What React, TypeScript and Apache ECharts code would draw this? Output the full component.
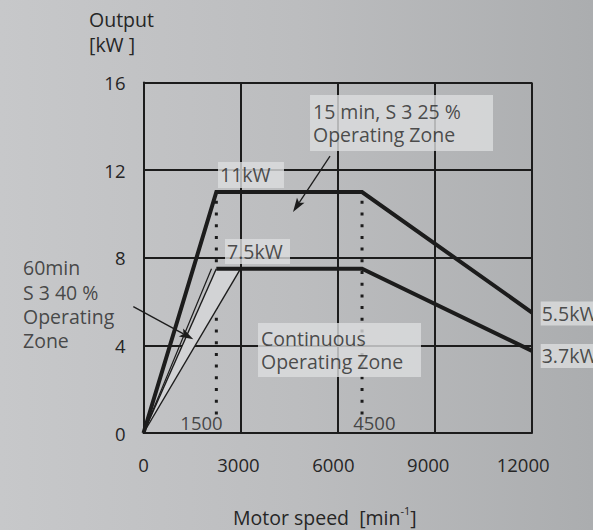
import React, { useEffect, useRef } from "react";
import * as echarts from "echarts";

// ---- axis ticks ----
const speedTickValues = [0, 3000, 6000, 9000, 12000];
const outputTickValues = [0, 4, 8, 12, 16];

// ---- 11 kW curve (15 min, S3 25 %) ----
const speed11kW = [0, 2250, 6750, 12000];
const output11kW = [0, 11, 11, 5.5];

// ---- 7.5 kW curve (continuous) ----
const speed7kW = [0, 2250, 6750, 12000];
const output7kW = [0, 7.5, 7.5, 3.75];

// ---- thin constant-torque ramps ----
const rampSpeed = [0, 3000];
const rampOutput = [0, 7.5];
const ramp60Speed = [0, 2100];
const ramp60Output = [0, 7.5];

// ---- base speed markers (dotted) ----
const baseSpeedPos = [2250, 6750];
const baseSpeedLabels = ["1500", "4500"];
const baseMarkRange = [0.8, 10.6];

// ---- annotation texts ----
const annoTexts = [
  "11kW",
  "7.5kW",
  "15 min, S 3 25 %\nOperating Zone",
  "Continuous\nOperating Zone",
  "5.5kW",
  "3.7kW",
];
const annoAnchors = [
  [2301, 11.78],
  [2517, 8.28],
  [5143, 14.15],
  [3537, 3.79],
  [12269, 5.46],
  [12269, 3.52],
];
const annoBoxes = [
  { w: 64, h: 22, pad: [2, 0, 2, 2] },
  { w: 63, h: 21, pad: [2, 0, 2, 2] },
  { w: 178, h: 48, pad: [4, 2, 4, 3] },
  { w: 160, h: 48, pad: [3, 0, 3, 3] },
  { w: 60, h: 20, pad: [2, 0, 2, 1] },
  { w: 60, h: 20, pad: [2, 0, 2, 1] },
];
const sideText = "60min\nS 3 40 %\nOperating\nZone";
const sideAnchor = [-3722, 5.88];
const baseLabelY = 0.47;
const baseLabelX = [1792, 7129];

// ---- arrows (from, to) ----
const arrowFrom = [
  [5761, 12.64],
  [-315, 5.77],
];
const arrowTo = [
  [4618, 10.09],
  [1538, 4.28],
];

const INK = "#1c1c1c";
const TXT = "#262626";
const FONT = "'Open Sans', 'Noto Sans', sans-serif";
const BOX = "#dcdddf";

export default function App() {
  const ref = useRef<HTMLDivElement>(null);

  useEffect(() => {
    document.body.style.margin = "0";
    const chart = echarts.init(ref.current!, null, { renderer: "svg" });

    const pts = (xs: number[], ys: number[]) => xs.map((x, i) => [x, ys[i]]);
    const p11 = pts(speed11kW, output11kW);
    const p7 = pts(speed7kW, output7kW);
    const ramp = pts(rampSpeed, rampOutput);
    const ramp60 = pts(ramp60Speed, ramp60Output);
    const shade = [p7[0], p7[1], ramp[1]];

    const thinLine = (data: number[][], w = 1.4) => ({
      type: "line",
      data,
      symbol: "none",
      silent: true,
      clip: false,
      lineStyle: { color: INK, width: w },
      z: 5,
    });

    const series: any[] = [
      {
        type: "custom",
        silent: true,
        z: 4,
        data: [[0, 0]],
        renderItem: (params: any, api: any) => {
          if (params.dataIndex !== 0) return null;
          return {
            type: "polygon",
            shape: { points: shade.map((p) => api.coord(p)) },
            style: { fill: "#d2d3d5" },
          };
        },
      },
      thinLine(ramp),
      thinLine(p7.slice(0, 2)),
      thinLine(ramp60, 1.2),
      {
        type: "line",
        data: p7.slice(1),
        symbol: "none",
        silent: true,
        lineStyle: { color: INK, width: 4, join: "miter" },
        z: 6,
      },
      {
        type: "line",
        data: p11,
        symbol: "none",
        silent: true,
        lineStyle: { color: INK, width: 4, join: "miter" },
        z: 6,
      },
      ...baseSpeedPos.map((x) => ({
        type: "line",
        data: [
          [x, baseMarkRange[1]],
          [x, baseMarkRange[0]],
        ],
        symbol: "none",
        silent: true,
        lineStyle: { color: INK, width: 3, type: [3, 8.7], cap: "butt" },
        z: 3,
      })),
      {
        type: "custom",
        silent: true,
        clip: false,
        z: 8,
        data: arrowFrom,
        renderItem: (params: any, api: any) => {
          const i = params.dataIndex;
          const a = api.coord(arrowFrom[i]);
          const b = api.coord(arrowTo[i]);
          const dx = b[0] - a[0];
          const dy = b[1] - a[1];
          const len = Math.sqrt(dx * dx + dy * dy);
          const ux = dx / len;
          const uy = dy / len;
          const hl = 14;
          const hw = 4.5;
          const bx = b[0] - ux * hl;
          const by = b[1] - uy * hl;
          const nx = b[0] - ux * hl * 0.8;
          const ny = b[1] - uy * hl * 0.8;
          return {
            type: "group",
            children: [
              {
                type: "line",
                shape: { x1: a[0], y1: a[1], x2: nx, y2: ny },
                style: { stroke: INK, lineWidth: 1.3 },
              },
              {
                type: "polygon",
                shape: {
                  points: [
                    b,
                    [bx - uy * hw, by + ux * hw],
                    [nx, ny],
                    [bx + uy * hw, by - ux * hw],
                  ],
                },
                style: { fill: INK },
              },
            ],
          };
        },
      },
      {
        type: "scatter",
        symbolSize: 0,
        silent: true,
        clip: false,
        z: 10,
        data: [
          ...annoTexts.map((t, i) => ({
            value: annoAnchors[i],
            label: {
              show: true,
              position: "right",
              distance: 0,
              formatter: t,
              color: TXT,
              fontFamily: FONT,
              fontSize: 19.5,
              lineHeight: 23,
              align: "left",
              backgroundColor: BOX,
              padding: annoBoxes[i].pad,
              width: annoBoxes[i].w,
              height: annoBoxes[i].h,
            },
          })),
          {
            value: sideAnchor,
            label: {
              show: true,
              position: "right",
              distance: 0,
              formatter: sideText,
              color: TXT,
              fontFamily: FONT,
              fontSize: 19.5,
              lineHeight: 24.3,
              align: "left",
            },
          },
          ...baseSpeedLabels.map((t, i) => ({
            value: [baseLabelX[i], baseLabelY],
            label: {
              show: true,
              position: "inside",
              formatter: t,
              color: TXT,
              fontFamily: FONT,
              fontSize: 18.5,
            },
          })),
        ],
      },
    ];

    chart.setOption({
      animation: false,
      backgroundColor: new echarts.graphic.LinearGradient(0, 0, 1, 0, [
        { offset: 0, color: "#c7c8ca" },
        { offset: 0.5, color: "#bcbdbf" },
        { offset: 1, color: "#abadaf" },
      ]),
      grid: { left: 143.5, top: 82.5, right: 61, bottom: 97 },
      xAxis: [
        {
          type: "value",
          min: 0,
          max: 12000,
          interval: 3000,
          axisLine: { show: true, lineStyle: { color: INK, width: 2 } },
          axisTick: { show: false },
          axisLabel: { show: false },
          splitLine: { show: true, lineStyle: { color: INK, width: 2 } },
        },
        {
          type: "value",
          position: "bottom",
          min: 0,
          max: 12280,
          interval: 3000,
          axisLine: { show: false },
          axisTick: { show: false },
          splitLine: { show: false },
          axisLabel: {
            margin: 22,
            color: TXT,
            fontFamily: FONT,
            fontSize: 18.5,
            formatter: (v: number) =>
              speedTickValues.indexOf(v) >= 0 ? String(v) : "",
          },
        },
      ],
      yAxis: {
        type: "value",
        min: 0,
        max: 16,
        interval: 4,
        axisLine: { show: true, lineStyle: { color: INK, width: 2 } },
        axisTick: { show: false },
        axisLabel: {
          margin: 18,
          color: TXT,
          fontFamily: FONT,
          fontSize: 18.5,
          formatter: (v: number) =>
            outputTickValues.indexOf(v) >= 0 ? String(v) : "",
        },
        splitLine: { show: true, lineStyle: { color: INK, width: 2 } },
      },
      graphic: [
        {
          type: "text",
          left: 89,
          top: 7,
          silent: true,
          style: {
            text: "Output\n[kW ]",
            fill: TXT,
            font: `19.5px ${FONT}`,
            lineHeight: 25,
          },
        },
        {
          type: "text",
          left: 233,
          top: 505,
          silent: true,
          style: {
            text: "{a|Motor speed  [min}{s|-1}{a|]}",
            fill: TXT,
            rich: {
              a: { fontFamily: FONT, fontSize: 19.5, color: TXT, lineHeight: 25 },
              s: {
                fontFamily: FONT,
                fontSize: 11,
                color: TXT,
                verticalAlign: "top",
                lineHeight: 25,
                padding: [0, 0, 10, 0],
              },
            },
          },
        },
      ],
      series,
    });

    return () => chart.dispose();
  }, []);

  return (
    <div
      ref={ref}
      style={{ position: "absolute", left: 0, top: 0, width: 593, height: 530 }}
    />
  );
}
